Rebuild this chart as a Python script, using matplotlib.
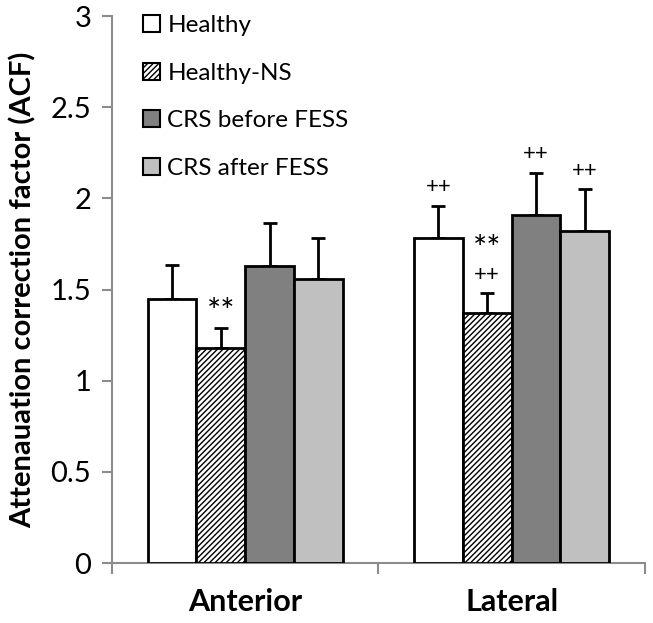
import matplotlib.pyplot as plt
import numpy as np

plt.rcParams['font.family'] = ['Lato', 'DejaVu Sans']
plt.rcParams['hatch.linewidth'] = 1.0

# data
regions = ["Anterior", "Lateral"]
groups = ["Healthy", "Healthy-NS", "CRS before FESS", "CRS after FESS"]
means = {
    "Healthy": [1.45, 1.78],
    "Healthy-NS": [1.18, 1.37],
    "CRS before FESS": [1.63, 1.91],
    "CRS after FESS": [1.555, 1.82],
}
sds = {
    "Healthy": [0.185, 0.18],
    "Healthy-NS": [0.11, 0.11],
    "CRS before FESS": [0.235, 0.23],
    "CRS after FESS": [0.23, 0.23],
}
# significance marks above each bar, listed bottom-up
marks = {
    "Healthy": [[], ["++"]],
    "Healthy-NS": [["**"], ["++", "**"]],
    "CRS before FESS": [[], ["++"]],
    "CRS after FESS": [[], ["++"]],
}

colors = ["white", "white", "#808080", "#c0c0c0"]
hatches = [None, "//////", None, None]
spine_col = "#8c8c8c"

fig = plt.figure(figsize=(6.53, 6.23), dpi=100)
ax = fig.add_axes([0.1715, 0.0963, 0.816, 0.878])

x = np.arange(len(regions))
width = 0.183

for i, g in enumerate(groups):
    pos = x + (i - 1.5) * width
    ax.bar(pos, means[g], width, color=colors[i], edgecolor="black",
           linewidth=2, hatch=hatches[i], label=g, zorder=3)
    ax.errorbar(pos, means[g], yerr=[np.zeros(len(regions)), sds[g]],
                fmt="none", ecolor="black", elinewidth=2, capsize=5,
                capthick=2, zorder=2)
    for j in range(len(regions)):
        top = means[g][j] + sds[g][j]
        off = 6
        for m in marks[g][j]:
            if m == "**":
                ax.annotate(m, (pos[j], top), xytext=(0, off - 6),
                            textcoords="offset points", ha="center",
                            va="bottom", fontsize=24)
            else:
                ax.annotate(m, (pos[j], top), xytext=(0, off),
                            textcoords="offset points", ha="center",
                            va="bottom", fontsize=16)
            off += 20

ax.set_xlim(-0.5, 1.5)
ax.set_ylim(0, 3)
ax.set_yticks(np.arange(0, 3.01, 0.5))
ax.set_yticklabels(["0", "0.5", "1", "1.5", "2", "2.5", "3"])
ax.set_xticks(x)
ax.set_xticklabels(regions, fontsize=22, fontweight="bold")
ax.set_xticks([-0.5, 0.5, 1.5], minor=True)
ax.tick_params(axis="x", which="major", length=0, pad=18)
ax.tick_params(axis="x", which="minor", length=8, color=spine_col, width=1.5)
ax.tick_params(axis="y", length=7, color=spine_col, width=1.5, labelsize=21, pad=8)
ax.set_ylabel("Attenauation correction factor (ACF)", fontsize=21,
              fontweight="bold", labelpad=10)

for s in ["top", "right"]:
    ax.spines[s].set_visible(False)
for s in ["left", "bottom"]:
    ax.spines[s].set_color(spine_col)
    ax.spines[s].set_linewidth(1.5)

leg = ax.legend(loc="upper left", bbox_to_anchor=(0.04, 1.02), frameon=False,
                fontsize=17.5, handlelength=0.7, handleheight=0.7,
                handletextpad=0.3, labelspacing=1.1, borderaxespad=0)
for h in leg.legend_handles:
    h.set_linewidth(1.5)

fig.savefig("out.png", dpi=100)
